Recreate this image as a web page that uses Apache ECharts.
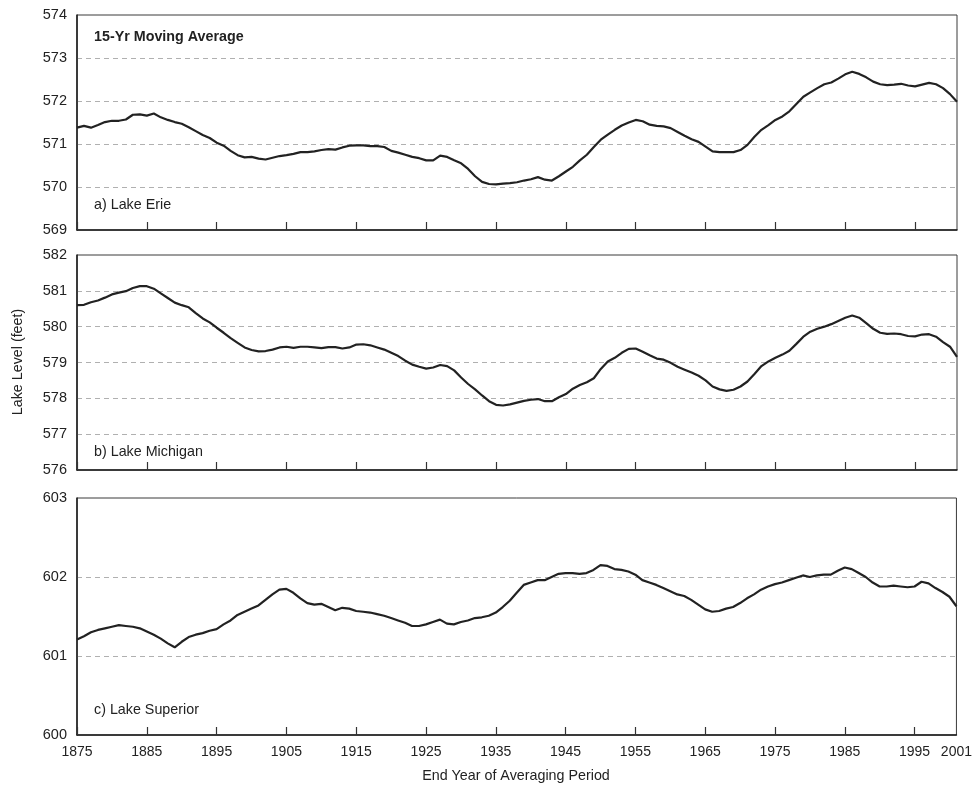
<!DOCTYPE html>
<html>
<head>
<meta charset="utf-8">
<title>15-Yr Moving Average Lake Levels</title>
<script src="https://cdn.jsdelivr.net/npm/echarts@6.0.0/dist/echarts.min.js"></script>
<style>
  html, body { margin: 0; padding: 0; background: #ffffff; }
  #chart { width: 975px; height: 786px; }
</style>
</head>
<body>
<div id="chart"></div>
<script>
// End year of each 15-year averaging period
const years = Array.from({ length: 127 }, (_, i) => 1875 + i);

// Tick marks and labelled years on the shared time axis
const tickYears = [1875, 1885, 1895, 1905, 1915, 1925, 1935, 1945, 1955, 1965, 1975, 1985, 1995];
const labelYears = [1875, 1885, 1895, 1905, 1915, 1925, 1935, 1945, 1955, 1965, 1975, 1985, 1995, 2001];

// 15-yr moving average lake level (feet), one value per end year
const erie = [
  571.38, 571.42, 571.38, 571.44, 571.51, 571.54, 571.54, 571.57, 571.68, 571.69,
  571.66, 571.71, 571.62, 571.56, 571.51, 571.47, 571.39, 571.30, 571.21, 571.14,
  571.03, 570.96, 570.84, 570.74, 570.69, 570.70, 570.66, 570.64, 570.68, 570.72,
  570.74, 570.77, 570.81, 570.81, 570.83, 570.86, 570.88, 570.87, 570.92, 570.96,
  570.97, 570.97, 570.95, 570.95, 570.93, 570.84, 570.80, 570.75, 570.70, 570.67,
  570.62, 570.62, 570.73, 570.70, 570.62, 570.55, 570.42, 570.25, 570.12, 570.07,
  570.06, 570.08, 570.09, 570.11, 570.15, 570.18, 570.23, 570.17, 570.15, 570.25,
  570.36, 570.47, 570.62, 570.75, 570.93, 571.10, 571.22, 571.33, 571.43, 571.50,
  571.56, 571.53, 571.45, 571.42, 571.41, 571.37, 571.28, 571.19, 571.11, 571.05,
  570.94, 570.83, 570.81, 570.81, 570.81, 570.86, 570.98, 571.17, 571.33, 571.44,
  571.56, 571.64, 571.76, 571.93, 572.10, 572.20, 572.30, 572.39, 572.43, 572.52,
  572.62, 572.68, 572.63, 572.55, 572.45, 572.39, 572.37, 572.38, 572.40, 572.36,
  572.34, 572.38, 572.42, 572.39, 572.30, 572.16, 571.98
];

const michigan = [
  580.60, 580.61, 580.68, 580.73, 580.81, 580.90, 580.95, 580.99, 581.08, 581.13,
  581.13, 581.06, 580.93, 580.80, 580.67, 580.60, 580.54, 580.38, 580.23, 580.12,
  579.97, 579.83, 579.68, 579.55, 579.42, 579.35, 579.31, 579.32, 579.36, 579.42,
  579.44, 579.41, 579.44, 579.44, 579.42, 579.40, 579.43, 579.43, 579.39, 579.42,
  579.50, 579.51, 579.48, 579.42, 579.36, 579.27, 579.18, 579.05, 578.94, 578.88,
  578.83, 578.86, 578.93, 578.90, 578.78, 578.58, 578.40, 578.25, 578.08, 577.92,
  577.82, 577.80, 577.83, 577.88, 577.93, 577.96, 577.98, 577.92, 577.92, 578.03,
  578.12, 578.27, 578.37, 578.45, 578.56, 578.82, 579.03, 579.13, 579.27, 579.38,
  579.39, 579.30, 579.20, 579.11, 579.08, 578.99, 578.88, 578.80, 578.72, 578.63,
  578.50, 578.33, 578.25, 578.21, 578.24, 578.33, 578.47, 578.68, 578.90, 579.03,
  579.13, 579.22, 579.33, 579.52, 579.72, 579.86, 579.94, 580.00, 580.07, 580.16,
  580.25, 580.31, 580.25, 580.10, 579.94, 579.83, 579.80, 579.81, 579.79, 579.74,
  579.73, 579.78, 579.79, 579.72, 579.57, 579.44, 579.16
];

const superior = [
  601.21, 601.25, 601.30, 601.33, 601.35, 601.37, 601.39, 601.38, 601.37, 601.35,
  601.31, 601.27, 601.22, 601.16, 601.11, 601.18, 601.24, 601.27, 601.29, 601.32,
  601.34, 601.40, 601.45, 601.52, 601.56, 601.60, 601.64, 601.71, 601.78, 601.84,
  601.85, 601.80, 601.73, 601.67, 601.65, 601.66, 601.62, 601.58, 601.61, 601.60,
  601.57, 601.56, 601.55, 601.53, 601.51, 601.48, 601.45, 601.42, 601.38, 601.38,
  601.40, 601.43, 601.46, 601.41, 601.40, 601.43, 601.45, 601.48, 601.49, 601.51,
  601.55, 601.62, 601.70, 601.80, 601.90, 601.93, 601.96, 601.96, 602.00, 602.04,
  602.05, 602.05, 602.04, 602.05, 602.09, 602.15, 602.14, 602.10, 602.09, 602.07,
  602.03, 601.96, 601.93, 601.90, 601.86, 601.82, 601.78, 601.76, 601.71, 601.65,
  601.59, 601.56, 601.57, 601.60, 601.62, 601.67, 601.73, 601.78, 601.84, 601.88,
  601.91, 601.93, 601.96, 601.99, 602.02, 602.00, 602.02, 602.03, 602.03, 602.08,
  602.12, 602.10, 602.05, 602.00, 601.93, 601.88, 601.88, 601.89, 601.88, 601.87,
  601.88, 601.94, 601.92, 601.86, 601.81, 601.75, 601.63
];

// Panel labels and y ranges
const panelNames = ['a) Lake Erie', 'b) Lake Michigan', 'c) Lake Superior'];
const yMins = [569, 576, 600];
const yMaxs = [574, 582, 603];
const panelSeries = [erie, michigan, superior];

const FONT = '"Liberation Sans", Arial, Helvetica, sans-serif';
const TEXT = '#222222';

const grids = [
  { left: 77, top: 15, width: 880, height: 215 },
  { left: 77, top: 255, width: 880, height: 215 },
  { left: 77, top: 498, width: 880, height: 237 }
].map(g => Object.assign(g, { show: true, borderColor: '#3a3a3a', borderWidth: 1, containLabel: false }));

const xAxes = grids.map((g, i) => ({
  type: 'value',
  gridIndex: i,
  min: 1875,
  max: 2001,
  axisLine: { show: true, onZero: false, lineStyle: { color: '#1a1a1a', width: 1.5 } },
  axisTick: {
    show: true, inside: true, length: 8, customValues: tickYears,
    lineStyle: { color: '#333333', width: 1.2 }
  },
  axisLabel: {
    show: i === 2, customValues: labelYears, margin: 10,
    color: TEXT, fontSize: 14, fontFamily: FONT,
    formatter: v => String(v)
  },
  splitLine: { show: false }
}));

const yAxes = grids.map((g, i) => ({
  type: 'value',
  gridIndex: i,
  min: yMins[i],
  max: yMaxs[i],
  interval: 1,
  axisLine: { show: true, onZero: false, lineStyle: { color: '#1a1a1a', width: 1.5 } },
  axisTick: { show: false },
  axisLabel: { color: TEXT, fontSize: 14.5, fontFamily: FONT, margin: 10 },
  splitLine: {
    show: true, showMinLine: false, showMaxLine: false,
    lineStyle: { color: '#b0b0b0', width: 1.2, type: [5, 4] }
  }
}));

const series = panelSeries.map((vals, i) => ({
  type: 'line',
  xAxisIndex: i,
  yAxisIndex: i,
  showSymbol: false,
  smooth: false,
  lineStyle: { color: '#222222', width: 2.2 },
  data: years.map((yr, k) => [yr, vals[k]])
}));

const labelY = [205, 452, 710];
const graphic = [
  {
    type: 'text', x: 94, y: 37,
    style: { text: '15-Yr Moving Average', font: 'bold 14.3px ' + FONT, fill: TEXT, verticalAlign: 'middle' }
  },
  ...panelNames.map((name, i) => ({
    type: 'text', x: 94, y: labelY[i],
    style: { text: name, font: '14.3px ' + FONT, fill: TEXT, verticalAlign: 'middle' }
  })),
  {
    type: 'text', x: 18, y: 362, rotation: Math.PI / 2,
    style: { text: 'Lake Level (feet)', font: '14.3px ' + FONT, fill: TEXT, align: 'center', verticalAlign: 'middle' }
  },
  {
    type: 'text', x: 516, y: 776,
    style: { text: 'End Year of Averaging Period', font: '14.3px ' + FONT, fill: TEXT, align: 'center', verticalAlign: 'middle' }
  }
];

const chart = echarts.init(document.getElementById('chart'), null, { renderer: 'canvas' });
chart.setOption({
  animation: false,
  backgroundColor: '#ffffff',
  grid: grids,
  xAxis: xAxes,
  yAxis: yAxes,
  series: series,
  graphic: graphic
});
</script>
</body>
</html>
